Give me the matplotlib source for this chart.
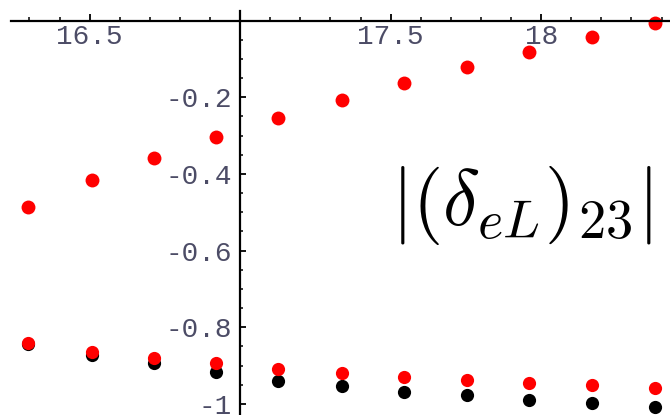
import matplotlib
matplotlib.use("Agg")
import matplotlib.pyplot as plt
from matplotlib.ticker import FixedLocator, FixedFormatter

# values
x_vals = [16.295, 16.506, 16.712, 16.920, 17.127, 17.338, 17.543, 17.753, 17.959, 18.169, 18.378]
upper_red = [-0.486, -0.416, -0.359, -0.303, -0.255, -0.207, -0.164, -0.120, -0.081, -0.042, -0.006]
lower_red = [-0.840, -0.864, -0.881, -0.894, -0.910, -0.918, -0.930, -0.937, -0.944, -0.950, -0.959]
lower_black = [-0.844, -0.872, -0.892, -0.916, -0.939, -0.953, -0.968, -0.977, -0.990, -0.997, -1.007]

x_major = [16.5, 17.5, 18.0]
x_major_labels = ["16.5", "17.5", "18"]
x_minor = [16.3, 16.4, 16.6, 16.7, 16.8, 16.9, 17.1, 17.2, 17.3, 17.4,
           17.6, 17.7, 17.8, 17.9, 18.1, 18.2, 18.3, 18.4]
y_major = [-0.2, -0.4, -0.6, -0.8, -1.0]
y_major_labels = ["-0.2", "-0.4", "-0.6", "-0.8", "-1"]
y_minor = [-0.05, -0.1, -0.15, -0.25, -0.3, -0.35, -0.45, -0.5, -0.55,
           -0.65, -0.7, -0.75, -0.85, -0.9, -0.95]

label_text = r"$\left|(\delta_{eL})_{23}\right|$"
TICK_COLOR = "#4c4c66"

plt.rcParams["mathtext.fontset"] = "cm"

fig = plt.figure(figsize=(6.7, 4.15), dpi=100)
ax = fig.add_axes([0, 0, 1, 1])
ax.set_xlim(16.202, 18.428)
ax.set_ylim(-1.0287, 0.0535)

ax.plot(x_vals, lower_black, "o", color="black", ms=9.5, mec="none")
ax.plot(x_vals, lower_red, "o", color="red", ms=9.5, mec="none")
ax.plot(x_vals, upper_red, "o", color="red", ms=10, mec="none")

# Mathematica-style crossing axes at (17, 0)
ax.spines["top"].set_visible(False)
ax.spines["right"].set_visible(False)
ax.spines["left"].set_position(("data", 17))
ax.spines["bottom"].set_position(("data", 0))
ax.spines["left"].set_bounds(-1.0287, 0.025)
ax.spines["bottom"].set_bounds(16.237, 18.428)
for s in ("left", "bottom"):
    ax.spines[s].set_linewidth(1.6)

ax.xaxis.set_major_locator(FixedLocator(x_major))
ax.xaxis.set_major_formatter(FixedFormatter(x_major_labels))
ax.xaxis.set_minor_locator(FixedLocator(x_minor))
ax.yaxis.set_major_locator(FixedLocator(y_major))
ax.yaxis.set_major_formatter(FixedFormatter(y_major_labels))
ax.yaxis.set_minor_locator(FixedLocator(y_minor))

ax.tick_params(axis="x", which="major", direction="in", length=5, width=1.3, pad=2.5)
ax.tick_params(axis="x", which="minor", direction="in", length=3, width=1.1)
ax.tick_params(axis="y", which="major", direction="in", length=4, width=1.3, pad=6)
ax.tick_params(axis="y", which="minor", direction="in", length=2.5, width=1.1)
for lab in ax.get_xticklabels() + ax.get_yticklabels():
    lab.set_fontfamily("Liberation Mono")
    lab.set_fontsize(20)
    lab.set_color(TICK_COLOR)

ax.text(0.779, 0.504, label_text, transform=ax.transAxes, ha="center", va="center",
        fontsize=56, color="black")

fig.savefig("out.png", dpi=100)
